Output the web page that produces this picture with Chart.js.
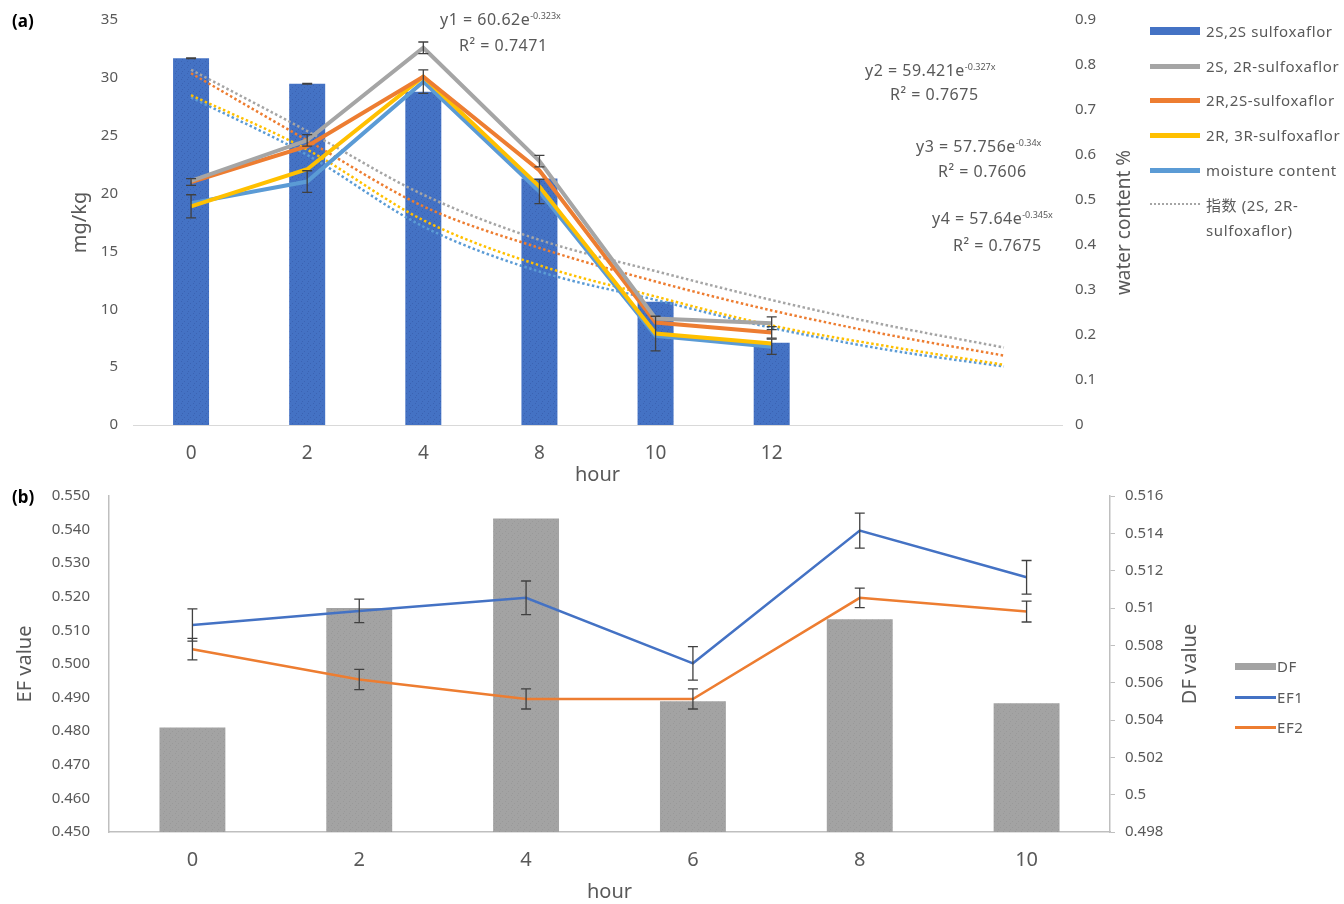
<!DOCTYPE html>
<html>
<head>
<meta charset="utf-8">
<script src="https://cdn.jsdelivr.net/npm/chart.js@4.4.1/dist/chart.umd.min.js"></script>
<style>
  body { margin: 0; background: #fff; font-family: 'Noto Sans', 'Noto Sans CJK SC', sans-serif; color: #595959; }
  #page { position: relative; width: 1344px; height: 904px; overflow: hidden; }
  .box { position: absolute; left: 0; width: 1344px; }
  .tag { position: absolute; font-weight: bold; font-size: 17px; color: #000; }
  .eq { position: absolute; font-size: 16px; letter-spacing: 0.5px; white-space: nowrap; line-height: 18px; }
  .eq sup { font-size: 9px; letter-spacing: 0; vertical-align: 6px; line-height: 0; }
  .leg { position: absolute; font-size: 15px; letter-spacing: 0.6px; white-space: nowrap; line-height: 18px; }
  .leg .sw { position: absolute; left: 0; }
  .leg .tx { position: absolute; top: 0; }
</style>
</head>
<body>
<div id="page">
  <div class="box" style="top:0;height:487px"><canvas id="chartA"></canvas></div>
  <div class="box" style="top:476px;height:428px"><canvas id="chartB"></canvas></div>

  <div class="tag" style="left:12px;top:9px">(a)</div>
  <div class="tag" style="left:12px;top:485px">(b)</div>

  <!-- trend equations -->
  <div class="eq" style="left:440px;top:10px">y1 = 60.62e<sup>-0.323x</sup></div>
  <div class="eq" style="left:459px;top:36px">R² = 0.7471</div>
  <div class="eq" style="left:865px;top:61px">y2 = 59.421e<sup>-0.327x</sup></div>
  <div class="eq" style="left:890px;top:85px">R² = 0.7675</div>
  <div class="eq" style="left:916px;top:137px">y3 = 57.756e<sup>-0.34x</sup></div>
  <div class="eq" style="left:938px;top:162px">R² = 0.7606</div>
  <div class="eq" style="left:932px;top:209px">y4 = 57.64e<sup>-0.345x</sup></div>
  <div class="eq" style="left:953px;top:236px">R² = 0.7675</div>

  <!-- legend (a) -->
  <div id="legendA"></div>
  <!-- legend (b) -->
  <div id="legendB"></div>
</div>

<script>
// ---------- (a) concentration / moisture ----------
const hoursA = ['0', '2', '4', '8', '10', '12', '', ''];

const ss2S2S = [31.7, 29.5, 28.8, 21.3, 10.65, 7.1];
const ss2S2SErr = [0.03, 0.03, 0, 0, 0, 0];
const ss2S2R = [21.1, 24.6, 32.6, 22.8, 9.2, 8.8];
const ss2S2RErr = [0, 0.5, 0.5, 0.5, 0, 0.55];
const ss2R2S = [21.0, 24.1, 30.1, 22.0, 8.85, 8.0];
const ss2R2SErr = [0.3, 0, 0, 0, 0, 0.5];
const ss2R3R = [18.9, 22.1, 30.1, 20.6, 7.9, 7.05];
const ss2R3RErr = [1.0, 0, 0, 0, 1.5, 0];
const moisture = [0.493, 0.541, 0.763, 0.519, 0.198, 0.174];
const moistureErr = [0, 0.024, 0.026, 0.027, 0, 0.017];

// exponential trend lines, extended two steps past the last sample
const trend2S2R = [30.7, 25.4, 19.9, 16.0, 13.3, 10.8, 8.6, 6.7];
const trend2R2S = [30.4, 24.6, 18.9, 15.3, 12.4, 9.9, 7.8, 6.0];
const trend2R3R = [28.5, 23.8, 17.7, 13.8, 11.1, 8.6, 6.8, 5.2];
const trendMoist = [0.728, 0.600, 0.441, 0.341, 0.278, 0.216, 0.167, 0.130];

// ---------- (b) EF / DF ----------
const hoursB = ['0', '2', '4', '6', '8', '10'];
const dfVals = [0.5036, 0.5100, 0.5148, 0.5050, 0.5094, 0.5049];
const ef1Vals = [0.5116, 0.5158, 0.5197, 0.5002, 0.5397, 0.5258];
const ef1Err = [0.0048, 0.0035, 0.005, 0.005, 0.0052, 0.005];
const ef2Vals = [0.5044, 0.4954, 0.4896, 0.4896, 0.5197, 0.5156];
const ef2Err = [0.0032, 0.003, 0.003, 0.003, 0.0029, 0.0031];

const BLUE = '#4472C4', GRAY = '#A5A5A5', ORANGE = '#ED7D31', YELLOW = '#FFC000', LBLUE = '#5B9BD5';
const TXT = '#595959';

Chart.defaults.font.family = "'Noto Sans', 'Noto Sans CJK SC', sans-serif";
Chart.defaults.color = TXT;

// speckled fill like the printed bars
function speckle(base, dot) {
  const c = document.createElement('canvas');
  c.width = 6; c.height = 6;
  const g = c.getContext('2d');
  g.fillStyle = base; g.fillRect(0, 0, 6, 6);
  g.fillStyle = dot;
  g.fillRect(1, 1, 1, 1); g.fillRect(4, 3, 1, 1); g.fillRect(2, 5, 1, 1);
  return g.createPattern(c, 'repeat');
}

// vertical error bars with caps, read from ds.errors
const errorBars = {
  id: 'errorBars',
  afterDatasetsDraw(chart) {
    const ctx = chart.ctx;
    chart.data.datasets.forEach((ds, i) => {
      if (!ds.errors) return;
      const meta = chart.getDatasetMeta(i);
      const ys = chart.scales[meta.yAxisID];
      ctx.save();
      ctx.strokeStyle = '#404040';
      ctx.lineWidth = 1.3;
      meta.data.forEach((el, j) => {
        const e = ds.errors[j];
        if (!e) return;
        const v = ds.data[j];
        const t = ys.getPixelForValue(v + e), b = ys.getPixelForValue(v - e);
        ctx.beginPath();
        ctx.moveTo(el.x, t); ctx.lineTo(el.x, b);
        ctx.moveTo(el.x - 5, t); ctx.lineTo(el.x + 5, t);
        ctx.moveTo(el.x - 5, b); ctx.lineTo(el.x + 5, b);
        ctx.stroke();
      });
      ctx.restore();
    });
  }
};

// right-hand axis title, reading bottom to top
const sideTitle = {
  id: 'sideTitle',
  afterDraw(chart, args, opts) {
    const s = chart.scales[opts.axis];
    const ctx = chart.ctx;
    ctx.save();
    ctx.translate(s.left + opts.offset, (chart.chartArea.top + chart.chartArea.bottom) / 2);
    ctx.rotate(-Math.PI / 2);
    ctx.textAlign = 'center';
    ctx.textBaseline = 'middle';
    ctx.fillStyle = TXT;
    ctx.font = opts.size + "px 'Noto Sans', 'Noto Sans CJK SC', sans-serif";
    ctx.fillText(opts.text, 0, 0);
    ctx.restore();
  }
};

const fixW = w => s => { s.width = w; };
const fixH = h => s => { s.height = h; };
const trimNum = v => String(+(+v).toFixed(3));

function lineSet(label, data, color, errs, axis) {
  return {
    type: 'line', label, data, errors: errs,
    borderColor: color, backgroundColor: color, borderWidth: 4,
    pointRadius: 0, tension: 0, order: 1, yAxisID: axis || 'y'
  };
}
function trendSet(label, data, color, axis) {
  return {
    type: 'line', label, data,
    borderColor: color, borderWidth: 2.5, borderDash: [2.5, 2.5],
    pointRadius: 0, cubicInterpolationMode: 'monotone', order: 2, yAxisID: axis || 'y'
  };
}

new Chart(document.getElementById('chartA'), {
  type: 'bar',
  data: {
    labels: hoursA,
    datasets: [
      {
        label: '2S,2S sulfoxaflor', data: ss2S2S, errors: ss2S2SErr,
        backgroundColor: speckle(BLUE, '#3b63b3'),
        categoryPercentage: 1, barPercentage: 0.31, order: 3, yAxisID: 'y'
      },
      lineSet('2S, 2R-sulfoxaflor', ss2S2R, GRAY, ss2S2RErr),
      lineSet('2R,2S-sulfoxaflor', ss2R2S, ORANGE, ss2R2SErr),
      lineSet('2R, 3R-sulfoxaflor', ss2R3R, YELLOW, ss2R3RErr),
      lineSet('moisture content', moisture, LBLUE, moistureErr, 'y1'),
      trendSet('指数 (2S, 2R-sulfoxaflor)', trend2S2R, GRAY),
      trendSet('指数 (2R,2S-sulfoxaflor)', trend2R2S, ORANGE),
      trendSet('指数 (2R, 3R-sulfoxaflor)', trend2R3R, YELLOW),
      trendSet('指数 (moisture content)', trendMoist, LBLUE, 'y1')
    ]
  },
  options: {
    responsive: true,
    maintainAspectRatio: false,
    animation: false,
    layout: { padding: { left: 0, right: 202, top: 20, bottom: 0 } },
    plugins: {
      legend: { display: false },
      tooltip: { enabled: false },
      sideTitle: { axis: 'y1', text: 'water content %', offset: 63, size: 19 }
    },
    scales: {
      x: {
        grid: { display: false },
        border: { display: true, color: '#D9D9D9', width: 1 },
        ticks: { font: { size: 19 }, padding: 9, color: TXT },
        title: { display: true, text: 'hour', font: { size: 20 }, color: TXT, padding: { top: 0, bottom: 0 } },
        afterFit: fixH(62)
      },
      y: {
        position: 'left', min: 0, max: 35,
        grid: { display: false },
        border: { display: false },
        ticks: { stepSize: 5, font: { size: 15 }, padding: 7, color: TXT },
        title: { display: true, text: 'mg/kg', font: { size: 20 }, color: TXT, padding: { top: 68, bottom: 0 } },
        afterFit: fixW(133)
      },
      y1: {
        position: 'right', min: 0, max: 0.9,
        grid: { display: false },
        border: { display: false },
        ticks: { stepSize: 0.1, font: { size: 15 }, padding: 5, color: TXT, callback: trimNum },
        afterFit: fixW(80)
      }
    }
  },
  plugins: [errorBars, sideTitle]
});

new Chart(document.getElementById('chartB'), {
  type: 'bar',
  data: {
    labels: hoursB,
    datasets: [
      {
        label: 'DF', data: dfVals, backgroundColor: speckle('#A3A3A3', '#999999'),
        categoryPercentage: 1, barPercentage: 0.395, order: 3, yAxisID: 'y1'
      },
      {
        type: 'line', label: 'EF1', data: ef1Vals, errors: ef1Err,
        borderColor: BLUE, borderWidth: 2.5, pointRadius: 0, tension: 0, order: 1, yAxisID: 'y'
      },
      {
        type: 'line', label: 'EF2', data: ef2Vals, errors: ef2Err,
        borderColor: ORANGE, borderWidth: 2.5, pointRadius: 0, tension: 0, order: 1, yAxisID: 'y'
      }
    ]
  },
  options: {
    responsive: true,
    maintainAspectRatio: false,
    animation: false,
    layout: { padding: { left: 0, right: 124, top: 20, bottom: 0 } },
    plugins: {
      legend: { display: false },
      tooltip: { enabled: false },
      sideTitle: { axis: 'y1', text: 'DF value', offset: 80, size: 20 }
    },
    scales: {
      x: {
        grid: { display: false },
        border: { display: true, color: '#BFBFBF', width: 1.5 },
        ticks: { font: { size: 20 }, padding: 8, color: TXT },
        title: { display: true, text: 'hour', font: { size: 20 }, color: TXT, padding: { top: 0, bottom: 0 } },
        afterFit: fixH(72)
      },
      y: {
        position: 'left', min: 0.45, max: 0.55,
        grid: { display: false },
        border: { display: true, color: '#BFBFBF', width: 1.5 },
        ticks: { stepSize: 0.01, font: { size: 15 }, padding: 11, color: TXT, callback: v => (+v).toFixed(3) },
        title: { display: true, text: 'EF value', font: { size: 20 }, color: TXT, padding: { top: 13, bottom: 0 } },
        afterFit: fixW(109)
      },
      y1: {
        position: 'right', min: 0.498, max: 0.516,
        grid: { display: true, drawOnChartArea: false, drawTicks: true, tickLength: 5, color: '#BFBFBF' },
        border: { display: true, color: '#BFBFBF', width: 1.5 },
        ticks: { stepSize: 0.002, font: { size: 15 }, padding: 10, color: TXT, callback: trimNum },
        afterFit: fixW(110)
      }
    }
  },
  plugins: [errorBars, sideTitle]
});

// legends
function legendRows(el, left, swW, gap, rows) {
  el.innerHTML = rows.map(r => {
    const sw = r.dotted
      ? `<span class="sw" style="top:7px;width:${swW}px;border-top:2.5px dotted ${r.color}"></span>`
      : `<span class="sw" style="top:${9 - r.h / 2}px;width:${swW}px;height:${r.h}px;background:${r.color}"></span>`;
    return `<div class="leg" style="left:${left}px;top:${r.y - 9}px">${sw}<span class="tx" style="left:${swW + gap}px">${r.text}</span></div>`;
  }).join('');
}

legendRows(document.getElementById('legendA'), 1150, 50, 6, [
  { y: 31, text: '2S,2S sulfoxaflor', color: BLUE, h: 8 },
  { y: 66, text: '2S, 2R-sulfoxaflor', color: GRAY, h: 5 },
  { y: 100, text: '2R,2S-sulfoxaflor', color: ORANGE, h: 5 },
  { y: 135, text: '2R, 3R-sulfoxaflor', color: YELLOW, h: 5 },
  { y: 170, text: 'moisture content', color: LBLUE, h: 5 },
  { y: 205, text: '指数 (2S, 2R-<br>sulfoxaflor)', color: GRAY, dotted: true }
]);
document.querySelectorAll('#legendA .tx').forEach(t => { t.style.lineHeight = '25px'; t.style.top = '-3px'; });

legendRows(document.getElementById('legendB'), 1235, 41, 1, [
  { y: 666, text: 'DF', color: '#A3A3A3', h: 7 },
  { y: 697, text: 'EF1', color: BLUE, h: 3 },
  { y: 727, text: 'EF2', color: ORANGE, h: 3 }
]);
</script>
</body>
</html>
